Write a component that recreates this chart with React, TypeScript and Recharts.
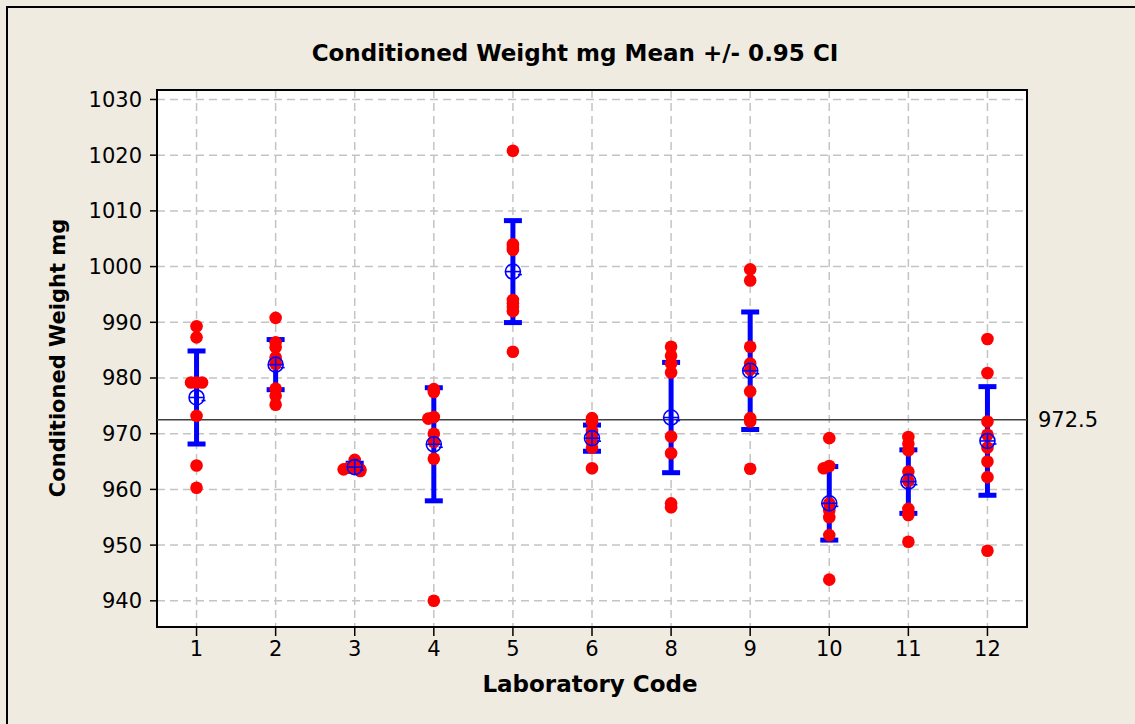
import React from 'react';
import {
  ScatterChart,
  Scatter,
  XAxis,
  YAxis,
  CartesianGrid,
  ReferenceLine,
  ReferenceArea,
  ErrorBar,
} from 'recharts';

const labCodes = ['1', '2', '3', '4', '5', '6', '8', '9', '10', '11', '12'];

const lab1 = [989.3, 987.3, 979.2, 979.2, 979.2, 973.2, 964.3, 960.3];
const lab2 = [990.8, 986.4, 985.5, 983.7, 982.5, 978.1, 976.8, 975.2];
const lab3 = [965.3, 964.0, 963.9, 963.6, 963.6, 963.3];
const lab4 = [978.0, 977.5, 973.0, 972.7, 970.0, 968.5, 965.5, 940.0];
const lab5 = [1020.8, 1004.0, 1003.5, 1003.0, 994.0, 993.4, 992.8, 992.0, 984.7];
const lab6 = [972.8, 972.2, 970.5, 969.8, 969.3, 968.5, 967.5, 963.8];
const lab8 = [985.6, 984.0, 982.6, 981.0, 969.5, 966.5, 957.5, 956.8];
const lab9 = [999.5, 997.5, 985.6, 982.6, 981.5, 977.6, 972.8, 972.2, 963.7];
const lab10 = [969.2, 964.2, 963.8, 957.5, 956.2, 955.0, 951.8, 943.8];
const lab11 = [969.4, 968.2, 967.0, 963.2, 961.5, 956.5, 955.4, 950.6];
const lab12 = [987.0, 980.9, 972.2, 969.8, 967.5, 965.0, 962.2, 949.0];

const observations = [lab1, lab2, lab3, lab4, lab5, lab6, lab8, lab9, lab10, lab11, lab12];

const means = [976.5, 982.4, 964.0, 968.1, 999.1, 969.2, 972.9, 981.3, 957.5, 961.4, 968.7];
const ciHalfWidth = [8.35, 4.5, 0.7, 10.15, 9.15, 2.35, 9.9, 10.55, 6.6, 5.7, 9.75];

const grandMean = 972.5;
const yTicks = [940, 950, 960, 970, 980, 990, 1000, 1010, 1020, 1030];
const xTicks = labCodes.map((_, i) => i + 1);

const X_DOMAIN: [number, number] = [0.5, 11.5];
const Y_DOMAIN: [number, number] = [935.3, 1031.7];

// nudge exact-ish duplicates sideways a little, like the minitab jitter
const pointData = observations.flatMap((vals, gi) => {
  const placed: number[] = [];
  return vals.map((v) => {
    const hits = placed.filter((p) => Math.abs(p - v) < 0.5).length;
    placed.push(v);
    const off = hits === 0 ? 0 : (hits % 2 === 1 ? -1 : 1) * 0.07 * Math.ceil(hits / 2);
    return { x: gi + 1 + off, y: v };
  });
});

const meanData = means.map((m, i) => ({
  x: i + 1,
  y: m,
  err: [ciHalfWidth[i], ciHalfWidth[i]],
}));

const RED = '#ff0000';
const BLUE = '#0000ff';
const FONT = '"DejaVu Sans", Verdana, sans-serif';

const Dot = (props: any) => {
  const { cx, cy } = props;
  if (cx == null || cy == null) return null;
  return <circle cx={cx} cy={cy} r={6.3} fill={RED} />;
};

const MeanSymbol = (props: any) => {
  const { cx, cy } = props;
  if (cx == null || cy == null) return null;
  return (
    <g stroke={BLUE} strokeWidth={1.6} fill="none">
      <circle cx={cx} cy={cy} r={7.5} />
      <line x1={cx - 7.5} y1={cy} x2={cx + 7.5} y2={cy} />
      <line x1={cx} y1={cy - 7.5} x2={cx} y2={cy + 7.5} />
      <line x1={cx + 5} y1={cy + 3} x2={cx + 9} y2={cy + 3} />
    </g>
  );
};

export default function App() {
  return (
    <div
      style={{
        position: 'fixed',
        left: 0,
        top: 0,
        width: 1135,
        height: 724,
        background: '#efebe1',
        overflow: 'hidden',
        fontFamily: FONT,
      }}
    >
      <div
        style={{
          position: 'absolute',
          left: 6,
          top: 6,
          width: 1200,
          height: 800,
          borderLeft: '2px solid #000',
          borderTop: '2px solid #000',
        }}
      />
      <div style={{ position: 'absolute', left: 0, top: 0 }}>
        <ScatterChart
          width={1135}
          height={724}
          margin={{ top: 90, right: 108, bottom: 47, left: 97 }}
        >
          <CartesianGrid
            fill="#ffffff"
            stroke="#c4c4c4"
            strokeWidth={1.5}
            strokeDasharray="8 5"
          />
          <XAxis
            type="number"
            dataKey="x"
            domain={X_DOMAIN}
            ticks={xTicks}
            interval={0}
            tickFormatter={(v: number) => labCodes[v - 1]}
            height={50}
            axisLine={false}
            tickSize={9}
            tickMargin={5}
            tickLine={{ stroke: '#000', strokeWidth: 1.5 }}
            tick={{ fill: '#000', fontSize: 21, fontFamily: FONT }}
            allowDataOverflow
          />
          <YAxis
            type="number"
            dataKey="y"
            domain={Y_DOMAIN}
            ticks={yTicks}
            interval={0}
            width={60}
            axisLine={false}
            tickSize={7}
            tickMargin={8}
            tickLine={{ stroke: '#000', strokeWidth: 1.5 }}
            tick={{ fill: '#000', fontSize: 21, fontFamily: FONT }}
            allowDataOverflow
          />
          <ReferenceLine
            y={grandMean}
            stroke="#404040"
            strokeWidth={1.5}
            label={{
              value: '972.5',
              position: 'right',
              offset: 11,
              fill: '#000',
              fontSize: 21,
              fontFamily: FONT,
            }}
          />
          <Scatter data={pointData} shape={<Dot />} isAnimationActive={false} />
          <Scatter data={meanData} shape={<MeanSymbol />} isAnimationActive={false}>
            <ErrorBar
              dataKey="err"
              direction="y"
              width={9}
              stroke={BLUE}
              strokeWidth={5}
              isAnimationActive={false}
            />
          </Scatter>
          <ReferenceArea
            x1={X_DOMAIN[0]}
            x2={X_DOMAIN[1]}
            y1={Y_DOMAIN[0]}
            y2={Y_DOMAIN[1]}
            fill="none"
            fillOpacity={0}
            stroke="#000"
            strokeWidth={2}
          />
        </ScatterChart>
      </div>
      <svg
        width={1135}
        height={724}
        style={{ position: 'absolute', left: 0, top: 0, pointerEvents: 'none' }}
      >
        <text
          x={575}
          y={61}
          textAnchor="middle"
          fontWeight="bold"
          fontSize={23}
          fontFamily={FONT}
          fill="#000"
        >
          Conditioned Weight mg Mean +/- 0.95 CI
        </text>
        <text
          x={590}
          y={692}
          textAnchor="middle"
          fontWeight="bold"
          fontSize={23}
          fontFamily={FONT}
          fill="#000"
        >
          Laboratory Code
        </text>
        <text
          transform="translate(65,358) rotate(-90)"
          textAnchor="middle"
          fontWeight="bold"
          fontSize={21}
          fontFamily={FONT}
          fill="#000"
        >
          Conditioned Weight mg
        </text>
      </svg>
    </div>
  );
}
